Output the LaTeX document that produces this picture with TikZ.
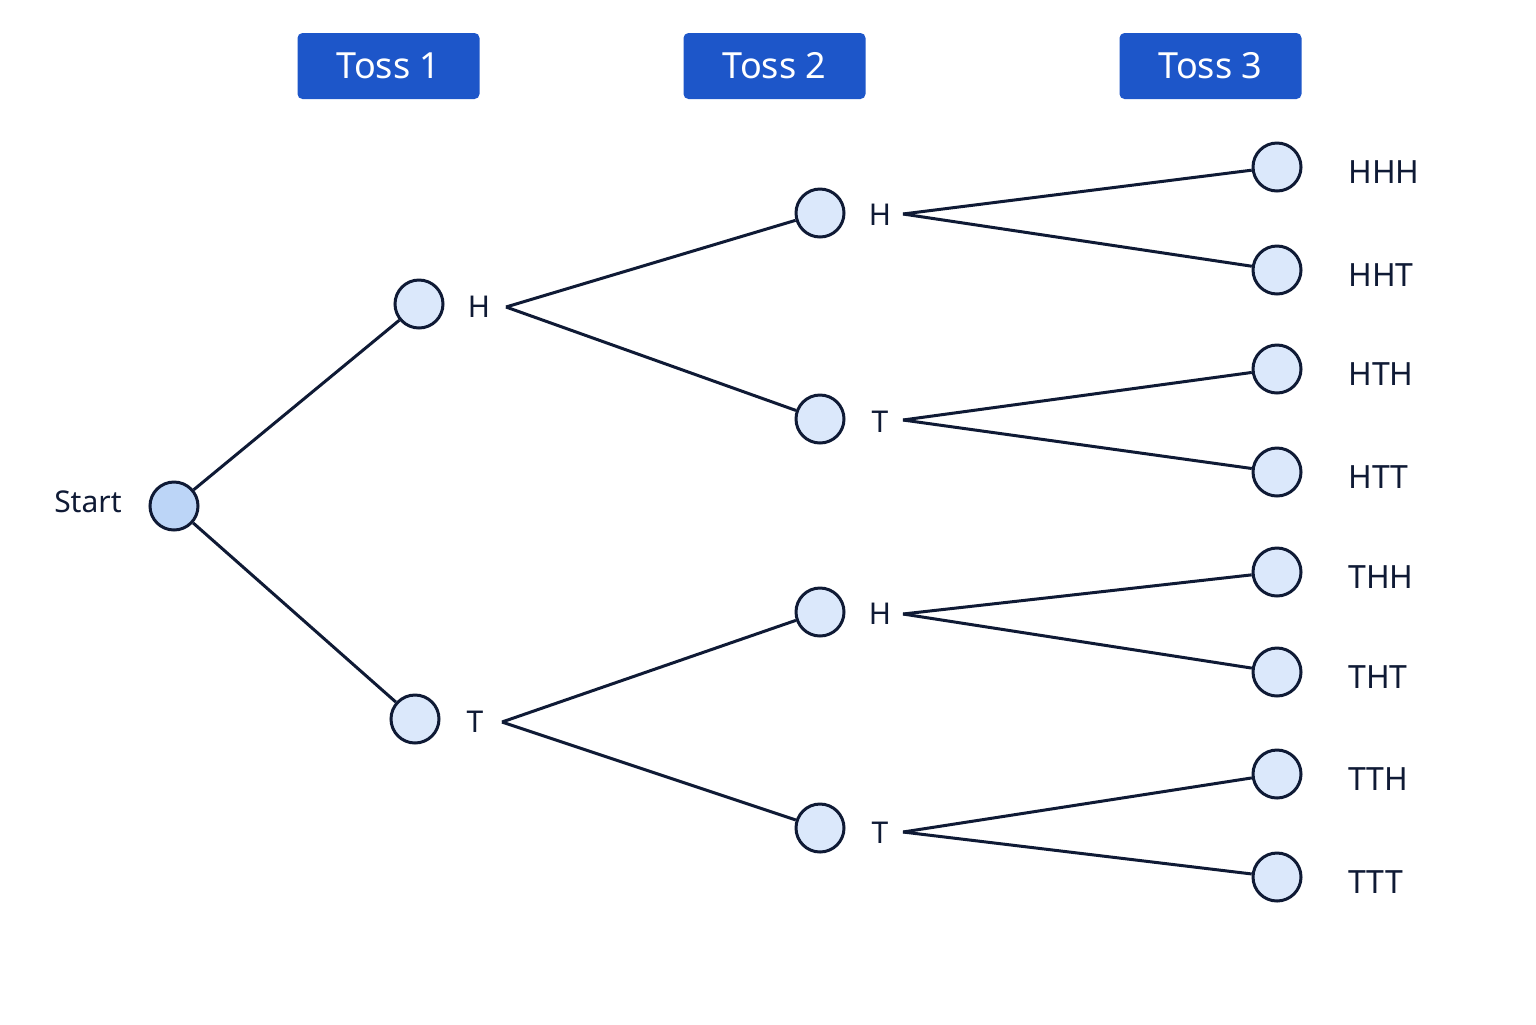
\documentclass[tikz,border=0pt]{standalone}
\usepackage{fontspec}
\setmainfont{Noto Sans}
\definecolor{ink}{HTML}{0F1A35}
\definecolor{hdr}{HTML}{1D56C9}
\definecolor{nfill}{HTML}{DBE8FB}
\definecolor{sfill}{HTML}{BCD5F7}
\begin{document}
\begin{tikzpicture}[x=0.5pt,y=-0.5pt,
  nd/.style={circle,draw=ink,line width=1.5pt,fill=nfill,minimum size=24pt,inner sep=0pt},
  lab/.style={text=ink,font=\fontsize{15}{18}\selectfont,inner sep=1pt},
  leaf/.style={text=ink,font=\fontsize{16}{19}\selectfont,anchor=west,inner sep=0pt},
  head/.style={fill=hdr,text=white,rounded corners=2.5pt,minimum width=91pt,minimum height=33pt,font=\fontsize{18}{21}\selectfont\bfseries},
  ln/.style={draw=ink,line width=1.5pt}]
\useasboundingbox[fill=white] (0,0) rectangle (1536,1024);
\node[head] (h1) at (388.5,66) {Toss 1};
\node[head] (h2) at (774.5,66) {Toss 2};
\node[head] (h3) at (1210.5,66) {Toss 3};
\node[nd,fill=sfill] (s) at (174,506) {};
\node[lab,anchor=east] (sl) at (124,502) {Start};
\node[nd] (a) at (419,304) {};
\node[lab] (al) at (479,307) {H};
\node[nd] (b) at (415,719) {};
\node[lab] (bl) at (475,722) {T};
\node[nd] (aa) at (820,213) {}; \node[lab] (aal) at (880,215) {H};
\node[nd] (ab) at (820,419) {}; \node[lab] (abl) at (880,422) {T};
\node[nd] (ba) at (820,612) {}; \node[lab] (bal) at (880,614) {H};
\node[nd] (bb) at (820,828) {}; \node[lab] (bbl) at (880,833) {T};
\foreach \n/\y/\t in {1/167/HHH,2/270/HHT,3/369/HTH,4/472/HTT,5/572/THH,6/672/THT,7/774/TTH,8/877/TTT}{
  \node[nd] (l\n) at (1277,\y) {};
  \node[leaf] (t\n) at (1348,\y+5) {\t};
}
\draw[ln] (s) -- (a);
\draw[ln] (s) -- (b);
\coordinate (ca) at (506,307);
\coordinate (cb) at (502,722);
\draw[ln] (ca) -- (aa); \draw[ln] (ca) -- (ab);
\draw[ln] (cb) -- (ba); \draw[ln] (cb) -- (bb);
\coordinate (caa) at (903,214);
\coordinate (cab) at (903,420);
\coordinate (cba) at (903,614);
\coordinate (cbb) at (903,832);
\draw[ln] (caa) -- (l1); \draw[ln] (caa) -- (l2);
\draw[ln] (cab) -- (l3); \draw[ln] (cab) -- (l4);
\draw[ln] (cba) -- (l5); \draw[ln] (cba) -- (l6);
\draw[ln] (cbb) -- (l7); \draw[ln] (cbb) -- (l8);
\end{tikzpicture}
\end{document}
